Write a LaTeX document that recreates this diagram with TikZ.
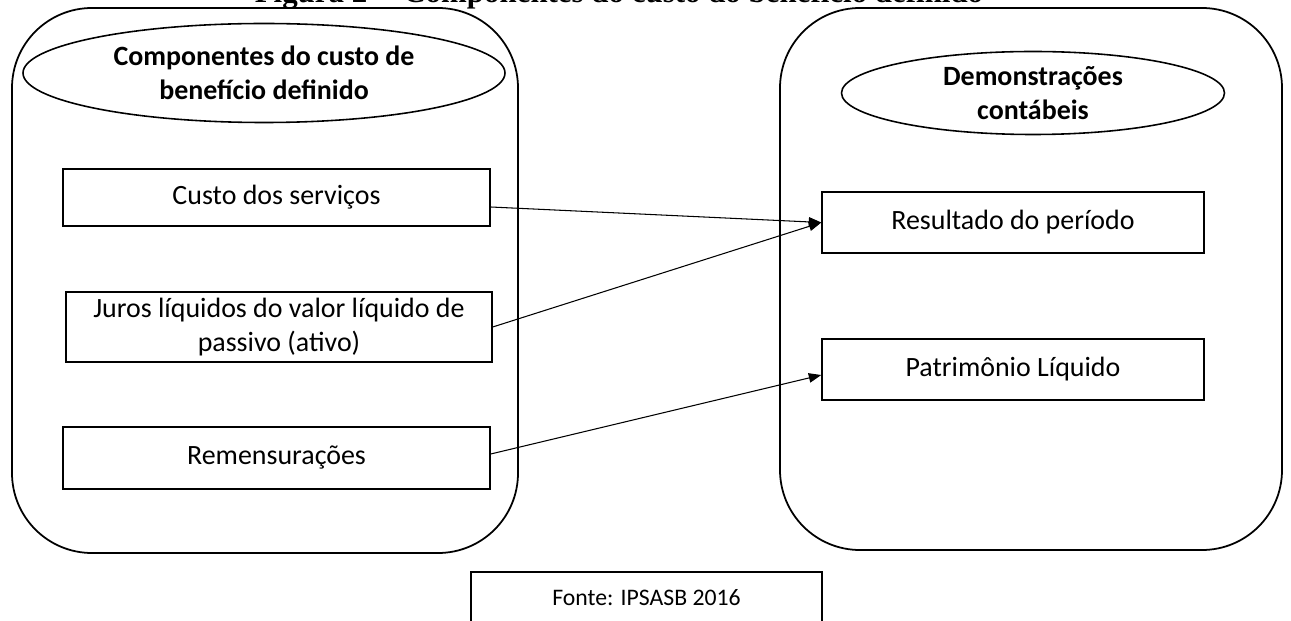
\documentclass[tikz,border=0pt]{standalone}
\usepackage{fontspec}
\setmainfont{Carlito}
\newfontfamily\titlefont{Liberation Serif}
\usetikzlibrary{shapes.geometric,arrows.meta,calc}

\def\txtsize{\fontsize{15.9}{19.3}\selectfont}

\tikzset{
  container/.style={draw, line width=1pt, rounded corners=1.6cm, inner sep=0pt},
  heading/.style={draw, ellipse, line width=0.9pt, inner sep=0pt, align=center,
    font=\txtsize\bfseries},
  itembox/.style={draw, rectangle, line width=0.8pt, inner sep=0pt, align=center,
    font=\txtsize},
  link/.style={line width=0.6pt, -{Triangle[length=2.5mm, width=1.9mm]}}
}

\begin{document}
\begin{tikzpicture}[x=0.02cm, y=-0.02cm]
  \useasboundingbox (0,0) rectangle (1291,621);

  % title, cut by the page edge
  \node[anchor=base, inner sep=0pt, font=\titlefont\fontsize{17.6}{20}\selectfont\bfseries]
    (titulo) at (619,3) {Figura 2 -- Componentes do custo do benefício definido};

  % two rounded frames
  \node[container, minimum width=506*0.02cm, minimum height=545*0.02cm] (esq) at (265,280.5) {};
  \node[container, minimum width=502*0.02cm, minimum height=542*0.02cm] (dir) at (1031,279) {};

  \node[heading, minimum width=482*0.02cm, minimum height=99*0.02cm] (compo) at (264,73)
    {Componentes do custo de\\benefício definido};
  \node[heading, minimum width=383*0.02cm, minimum height=83*0.02cm] (demo) at (1033,93)
    {Demonstrações\\contábeis};

  \node[itembox, minimum width=427*0.02cm, minimum height=57*0.02cm] (custo) at (276.5,197.5)
    {Custo dos serviços};
  \node[itembox, minimum width=426*0.02cm, minimum height=70*0.02cm] (juros) at (279,327)
    {Juros líquidos do valor líquido de\\passivo (ativo)};
  \node[itembox, minimum width=427*0.02cm, minimum height=62*0.02cm] (remens) at (276.5,458)
    {Remensurações};

  \node[itembox, minimum width=382*0.02cm, minimum height=61*0.02cm] (result) at (1013,222.5)
    {Resultado do período};
  \node[itembox, minimum width=382*0.02cm, minimum height=61*0.02cm] (patrim) at (1013,369.5)
    {Patrimônio Líquido};

  \node[itembox, minimum width=351*0.02cm, minimum height=52*0.02cm,
    font=\fontsize{13.5}{16}\selectfont] (fonte) at (646.5,598) {Fonte: IPSASB 2016};

  \draw[link] ($(custo.east)+(0,9.5)$) -- (result.west);
  \draw[link] (juros.east) -- (result.west);
  \draw[link] ($(remens.east)+(0,-4)$) -- ($(patrim.west)+(0,5.5)$);
\end{tikzpicture}
\end{document}
